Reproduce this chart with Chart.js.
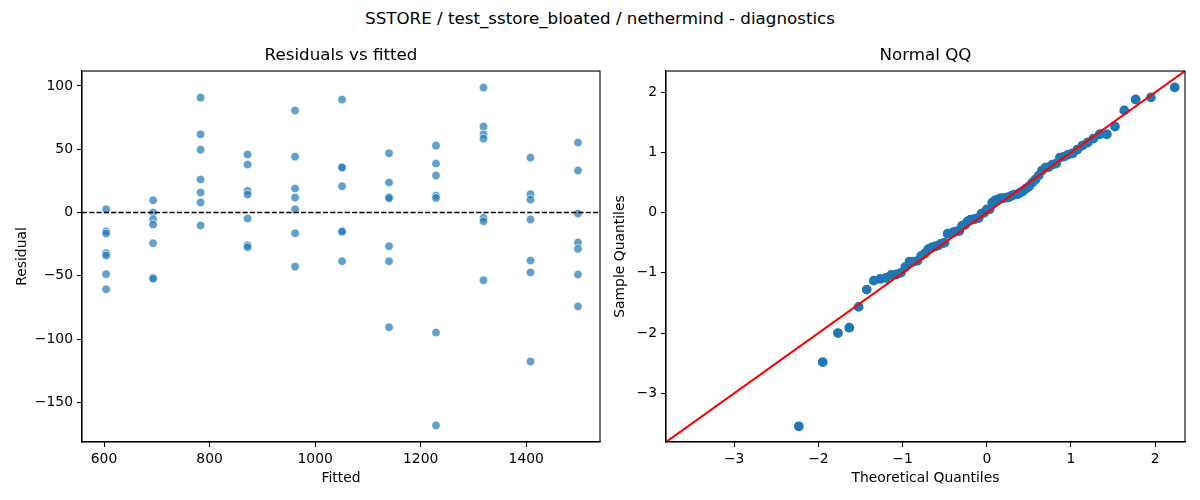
<!DOCTYPE html>
<html>
<head>
<meta charset="utf-8">
<script src="https://cdn.jsdelivr.net/npm/chart.js@4"></script>
<style>
    body { margin: 0; background: #fff; }
    #wrap { position: relative; width: 1200px; height: 500px; overflow: hidden; }
    #suptitle {
        position: absolute; left: 0; top: 8px; width: 1200px; line-height: 20px;
        text-align: center; font-family: 'DejaVu Sans', sans-serif; font-size: 16.7px; color: #000;
    }
    canvas { position: absolute; top: 0; }
    #residChart { left: 0; }
    #qqChart { left: 610px; }
</style>
</head>
<body>
<div id="wrap">
    <div id="suptitle">SSTORE / test_sstore_bloated / nethermind - diagnostics</div>
    <canvas id="residChart" width="610" height="500"></canvas>
    <canvas id="qqChart" width="590" height="500"></canvas>
</div>
<script>
// residuals vs fitted: one fitted level per group, 7 runs each
const fitted = [604, 693, 783, 872, 962, 1051, 1140, 1229, 1319, 1408, 1498];
const residuals = [
    [2.6, -14.8, -16.6, -32.1, -34, -48.7, -60.6],
    [9.7, 0, -5.3, -9.5, -24.3, -51.4, -52.2],
    [90.8, 61.8, 49.7, 26.1, 15.8, 7.9, -10.3],
    [45.8, 37.9, 17.1, 14.2, -4.7, -25.8, -27.4],
    [80.6, 44.2, 19, 11.8, 2.6, -16.4, -42.7],
    [89.2, 36, 35.5, 20.8, -14.5, -15.2, -38.5],
    [46.8, 23.7, 12.2, 11.4, -26.6, -38.5, -90.6],
    [52.9, 38.7, 29.2, 13.4, 11.5, -94.8, -168.2],
    [98.7, 67.9, 61.8, 58.4, -4.2, -6.9, -53.5],
    [43.4, 14.5, 10.2, -5.5, -37.9, -47.4, -117.7],
    [55.3, 33.2, -0.8, -23.7, -28.7, -49, -74.2]
];
const residXTicks = [600, 800, 1000, 1200, 1400];
const residYTicks = [-150, -100, -50, 0, 50, 100];
const residXRange = [558.3, 1539.7];
const residYRange = [-181.3, 111.8];

// normal QQ
const theoretical = [-2.232, -1.949, -1.768, -1.633, -1.522, -1.426, -1.342, -1.267, -1.198, -1.135,
    -1.076, -1.020, -0.967, -0.917, -0.869, -0.823, -0.779, -0.736, -0.695, -0.655,
    -0.615, -0.577, -0.539, -0.502, -0.466, -0.431, -0.396, -0.361, -0.327, -0.294,
    -0.260, -0.228, -0.195, -0.162, -0.129, -0.097, -0.064, -0.032, 0, 0.032,
    0.064, 0.097, 0.129, 0.162, 0.195, 0.228, 0.260, 0.294, 0.327, 0.361,
    0.396, 0.431, 0.466, 0.502, 0.539, 0.577, 0.615, 0.655, 0.695, 0.736,
    0.779, 0.823, 0.869, 0.917, 0.967, 1.020, 1.076, 1.135, 1.198, 1.267,
    1.342, 1.426, 1.522, 1.633, 1.768, 1.949, 2.232];
const sample = [-3.549, -2.483, -2.000, -1.911, -1.565, -1.278, -1.129, -1.101, -1.084, -1.034,
    -1.027, -1.000, -0.901, -0.812, -0.812, -0.800, -0.717, -0.677, -0.605, -0.578,
    -0.561, -0.544, -0.513, -0.500, -0.350, -0.346, -0.321, -0.312, -0.306, -0.217,
    -0.200, -0.146, -0.116, -0.112, -0.099, -0.089, -0.017, 0.000, 0.055, 0.055,
    0.167, 0.205, 0.215, 0.241, 0.243, 0.249, 0.257, 0.283, 0.300, 0.306,
    0.333, 0.361, 0.401, 0.439, 0.500, 0.551, 0.616, 0.700, 0.749, 0.759,
    0.800, 0.816, 0.916, 0.932, 0.966, 0.987, 1.049, 1.116, 1.167, 1.232,
    1.304, 1.304, 1.432, 1.700, 1.882, 1.916, 2.082];
const qqTicks = [-3, -2, -1, 0, 1, 2];
const qqRange = [-3.81, 2.354];

Chart.defaults.font.family = "'DejaVu Sans', sans-serif";
Chart.defaults.font.size = 13.9;
Chart.defaults.color = '#000';

const fmt = v => (v < 0 ? '\u2212' + Math.abs(v) : String(v));

// full box around the plot area, like matplotlib spines
const frame = {
    id: 'frame',
    afterDatasetsDraw(chart) {
        const { ctx, chartArea: a } = chart;
        ctx.save();
        ctx.strokeStyle = '#000';
        ctx.lineWidth = 1.1;
        ctx.strokeRect(a.left, a.top, a.right - a.left, a.bottom - a.top);
        ctx.restore();
    }
};

function axis(range, ticks, title, titlePad, size, horizontal) {
    return {
        type: 'linear',
        min: range[0],
        max: range[1],
        afterBuildTicks: scale => { scale.ticks = ticks.map(v => ({ value: v })); },
        afterFit: scale => {
            if (horizontal) scale.height = size;
            else scale.width = size;
        },
        border: { display: true, color: '#000', width: 1.1 },
        grid: { display: true, drawOnChartArea: false, drawTicks: true, tickLength: 5, tickWidth: 1.1, tickColor: '#000' },
        ticks: { padding: 4, color: '#000', callback: v => fmt(v), maxRotation: 0, autoSkip: false },
        title: { display: true, text: title, color: '#000', padding: horizontal ? { top: 0, bottom: titlePad } : { top: titlePad, bottom: 0 } }
    };
}

function baseOptions(title, padRight) {
    return {
        responsive: false,
        animation: false,
        events: [],
        layout: { padding: { left: 0, right: padRight, top: 46, bottom: 0 } },
        plugins: {
            legend: { display: false },
            tooltip: { enabled: false },
            title: {
                display: true, text: title, fullSize: false, color: '#000',
                font: { size: 16.7, weight: 'normal' },
                padding: { top: 0, bottom: 5 }
            }
        }
    };
}

const residPoints = [];
fitted.forEach((f, i) => residuals[i].forEach(r => residPoints.push({ x: f, y: r })));

new Chart(document.getElementById('residChart'), {
    type: 'scatter',
    data: {
        datasets: [{
            type: 'line',
            data: [{ x: residXRange[0], y: 0 }, { x: residXRange[1], y: 0 }],
            borderColor: '#000', borderWidth: 1.4, borderDash: [5.1, 2.2],
            pointRadius: 0, order: 0
        }, {
            data: residPoints,
            backgroundColor: 'rgba(31,119,180,0.7)',
            borderColor: 'rgba(255,255,255,0.7)',
            borderWidth: 1, pointRadius: 4.3, order: 1
        }]
    },
    options: {
        ...baseOptions('Residuals vs fitted', 10),
        scales: {
            x: axis(residXRange, residXTicks, 'Fitted', 13.7, 58, true),
            y: axis(residYRange, residYTicks, 'Residual', 13.7, 82, false)
        }
    },
    plugins: [frame]
});

new Chart(document.getElementById('qqChart'), {
    type: 'scatter',
    data: {
        datasets: [{
            type: 'line',
            data: [{ x: qqRange[0], y: qqRange[0] }, { x: qqRange[1], y: qqRange[1] }],
            borderColor: '#ff0000', borderWidth: 2.1,
            pointRadius: 0, order: 0
        }, {
            data: theoretical.map((t, i) => ({ x: t, y: sample[i] })),
            backgroundColor: '#1f77b4',
            borderColor: '#1f77b4',
            borderWidth: 1.4, pointRadius: 4.2, order: 1
        }]
    },
    options: {
        ...baseOptions('Normal QQ', 15),
        scales: {
            x: axis(qqRange, qqTicks, 'Theoretical Quantiles', 13.7, 58, true),
            y: axis(qqRange, qqTicks, 'Sample Quantiles', 2.4, 56, false)
        }
    },
    plugins: [frame]
});
</script>
</body>
</html>
